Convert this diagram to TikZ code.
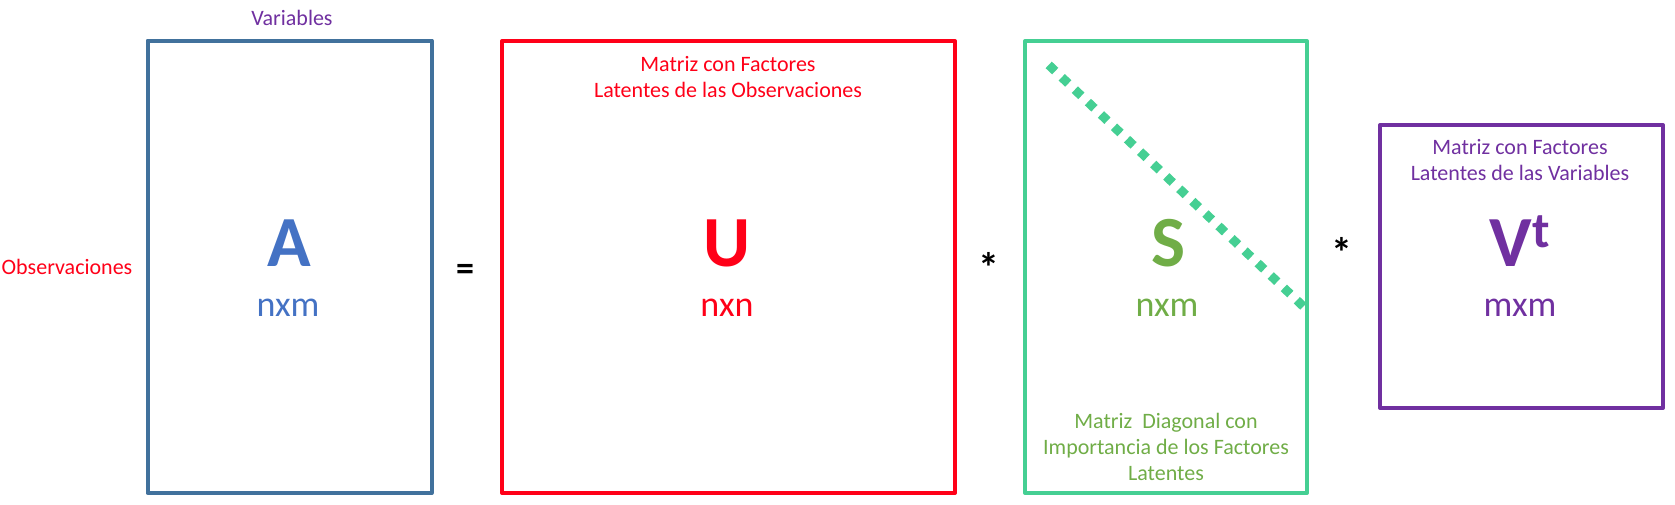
\documentclass[tikz,border=0pt]{standalone}
\usepackage{fontspec}
\setmainfont{Carlito}
\usepackage{xcolor}
\usepackage{tikz}
\usetikzlibrary{positioning}

\definecolor{boxblue}{HTML}{41719C}
\definecolor{letterblue}{HTML}{4472C4}
\definecolor{matred}{HTML}{FF0018}
\definecolor{boxgreen}{HTML}{45CF93}
\definecolor{lettergreen}{HTML}{70AD47}
\definecolor{matpurple}{HTML}{7030A0}

\begin{document}
\begin{tikzpicture}[x=0.5pt,y=-0.5pt,
  matbox/.style={draw, line width=2pt, line join=round, inner sep=0pt},
  bigletter/.style={font=\fontsize{36}{40}\selectfont\bfseries, anchor=base, inner sep=0pt},
  dimtext/.style={font=\fontsize{18}{20}\selectfont, anchor=base, inner sep=0pt},
  smalltext/.style={font=\fontsize{11}{13}\selectfont, align=center, inner sep=0pt},
  optext/.style={font=\fontsize{18}{20}\selectfont\bfseries, anchor=base, inner sep=0pt},
  startext/.style={font=\fontsize{21}{24}\selectfont\bfseries, anchor=base, inner sep=0pt}]
\useasboundingbox (0,0) rectangle (1675,504);
% matrices
\node[matbox, draw=boxblue, minimum width=142pt, minimum height=226.25pt] (A) at (289.5,266.75) {};
\node[matbox, draw=matred, minimum width=226.5pt, minimum height=226pt] (U) at (728.5,267) {};
\node[matbox, draw=boxgreen, minimum width=141pt, minimum height=226pt] (S) at (1166,267) {};
\node[matbox, draw=matpurple, minimum width=141.5pt, minimum height=141.5pt] (Vt) at (1521.5,266.5) {};
% diagonal of S
\coordinate (d1) at (1048.7,64.9);
\coordinate (d2) at (1305,308);
\draw[boxgreen, line width=4.5pt, dash pattern=on 4.5pt off 4.5pt] (d1) -- (d2);

\node[smalltext, anchor=base, text=matpurple] (variables) at (292,25) {Variables};
\node[smalltext, anchor=base, text=matred] (observaciones) at (67,274) {Observaciones};
\node[optext] (igual) at (465,280) {=};
\node[startext] (por1) at (989,282) {*};
\node[startext] (por2) at (1342,267) {*};

\node[bigletter, text=letterblue] (Aname) at (289,266) {A};
\node[dimtext, text=letterblue] (Adim) at (288,316) {nxm};
\node[bigletter, text=matred] (Uname) at (727,266) {U};
\node[dimtext, text=matred] (Udim) at (727,316) {nxn};
\node[bigletter, text=lettergreen] (Sname) at (1168,266) {S};
\node[dimtext, text=lettergreen] (Sdim) at (1167,316) {nxm};
\node[bigletter, text=matpurple] (Vname) at (1520,266) {V\textsuperscript{t}};
\node[dimtext, text=matpurple] (Vdim) at (1520,316) {mxm};

\node[smalltext, text=matred] (Ucap) at (728,77) {Matriz con Factores\\Latentes de las Observaciones};
\node[smalltext, text=lettergreen] (Scap) at (1166,447) {Matriz\ \ Diagonal con\\Importancia de los Factores\\Latentes};
\node[smalltext, text=matpurple] (Vcap) at (1520,160) {Matriz con Factores\\Latentes de las Variables};
\end{tikzpicture}
\end{document}
